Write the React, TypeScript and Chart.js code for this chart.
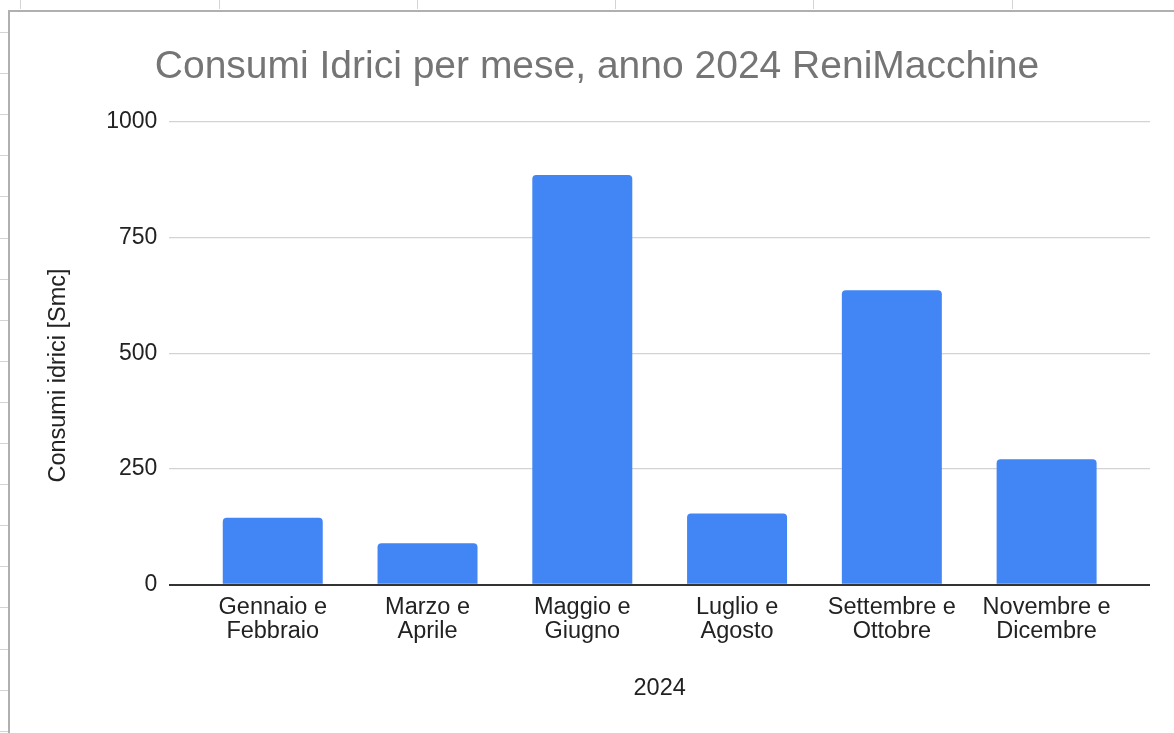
import React, { useEffect, useRef } from "react";
import { Chart, registerables } from "chart.js";

Chart.register(...registerables);

const chartTitle = "Consumi Idrici per mese, anno 2024 ReniMacchine";
const xAxisTitle = "2024";
const yAxisTitle = "Consumi idrici [Smc]";
const categories: string[][] = [
  ["Gennaio e", "Febbraio"],
  ["Marzo e", "Aprile"],
  ["Maggio e", "Giugno"],
  ["Luglio e", "Agosto"],
  ["Settembre e", "Ottobre"],
  ["Novembre e", "Dicembre"],
];
const consumi: number[] = [145, 90, 885, 154, 636, 271];
const yTicks: number[] = [0, 250, 500, 750, 1000];

const FONT = "'Liberation Sans', Arial, sans-serif";
const AXIS_FONT_SIZE = 23.5;
const LEFT_PAD = 34;
const Y_TITLE_GAP = 22;

// Y-axis title centred on the whole chart height (as in the original), drawn as canvas text
const yTitlePlugin = {
  id: "yTitleCentered",
  afterDraw(chart: any) {
    const ctx = chart.ctx;
    ctx.save();
    ctx.font = `${AXIS_FONT_SIZE}px ${FONT}`;
    ctx.fillStyle = "#222";
    ctx.textAlign = "center";
    ctx.textBaseline = "middle";
    ctx.translate(LEFT_PAD + (AXIS_FONT_SIZE * 1.2) / 2, chart.height / 2 + 3);
    ctx.rotate(-Math.PI / 2);
    ctx.fillText(yAxisTitle, 0, 0);
    ctx.restore();
  },
};

export default function App() {
  const canvasRef = useRef<HTMLCanvasElement | null>(null);

  useEffect(() => {
    if (!canvasRef.current) return;
    const chart = new Chart(canvasRef.current, {
      type: "bar",
      data: {
        datasets: [
          {
            label: yAxisTitle,
            data: consumi.map((v, i) => ({ x: i, y: v })),
            backgroundColor: "#4285f4",
            borderRadius: 4,
            borderSkipped: "start",
            barPercentage: 1,
            categoryPercentage: 0.646,
          },
        ],
      },
      plugins: [yTitlePlugin],
      options: {
        animation: false,
        responsive: true,
        maintainAspectRatio: false,
        layout: { padding: { left: LEFT_PAD, right: 24, top: 0, bottom: 30 } },
        plugins: {
          legend: { display: false },
          tooltip: { enabled: false },
          title: {
            display: true,
            text: chartTitle,
            color: "#757575",
            font: { family: FONT, size: 39, weight: "normal" },
            padding: { top: 32, bottom: 31 },
          },
        },
        scales: {
          x: {
            type: "linear",
            offset: false,
            min: -0.668,
            max: categories.length - 1 + 0.668,
            grid: { display: false, drawTicks: false },
            border: { display: false },
            afterBuildTicks: (axis: any) => {
              axis.ticks = categories.map((_, i) => ({ value: i }));
            },
            ticks: {
              autoSkip: false,
              maxRotation: 0,
              minRotation: 0,
              padding: 11,
              color: "#222",
              font: { family: FONT, size: AXIS_FONT_SIZE, lineHeight: 1.021 },
              callback: (value: any) => categories[Math.round(Number(value))] ?? "",
            },
            title: {
              display: true,
              text: xAxisTitle,
              color: "#222",
              font: { family: FONT, size: AXIS_FONT_SIZE },
              padding: { top: 20, bottom: 0 },
            },
          },
          y: {
            min: yTicks[0],
            max: yTicks[yTicks.length - 1],
            afterBuildTicks: (axis: any) => {
              axis.ticks = yTicks.map((v) => ({ value: v }));
            },
            afterFit: (axis: any) => {
              axis.width += AXIS_FONT_SIZE * 1.2 + Y_TITLE_GAP;
            },
            grid: {
              drawTicks: false,
              color: (ctx: any) => (ctx.tick && ctx.tick.value === 0 ? "#333333" : "#d3d3d3"),
              lineWidth: (ctx: any) => (ctx.tick && ctx.tick.value === 0 ? 2 : 1.3),
            },
            border: { display: false },
            ticks: {
              padding: 12,
              color: "#222",
              font: { family: FONT, size: 23 },
              callback: (value: any) => String(value),
            },
            title: { display: false },
          },
        },
      } as any,
    });
    return () => chart.destroy();
  }, []);

  return (
    <>
      <div
        style={{
          position: "fixed",
          left: 0,
          top: -9,
          width: 8,
          height: 760,
          background:
            "repeating-linear-gradient(to bottom, #d4d4d4 0px, #d4d4d4 1px, transparent 1px, transparent 41.1px)",
        }}
      />
      <div
        style={{
          position: "fixed",
          left: -178,
          top: 0,
          width: 1360,
          height: 9,
          background:
            "repeating-linear-gradient(to right, #d4d4d4 0px, #d4d4d4 1px, transparent 1px, transparent 198.3px)",
        }}
      />
      <div
        style={{
          position: "absolute",
          left: 8,
          top: 10,
          width: 1166,
          height: 723,
          boxSizing: "border-box",
          borderLeft: "2px solid #b0b0b0",
          borderTop: "2px solid #b0b0b0",
          background: "#fff",
        }}
      >
        <div style={{ position: "relative", width: 1164, height: 721 }}>
          <canvas ref={canvasRef} />
        </div>
      </div>
    </>
  );
}
